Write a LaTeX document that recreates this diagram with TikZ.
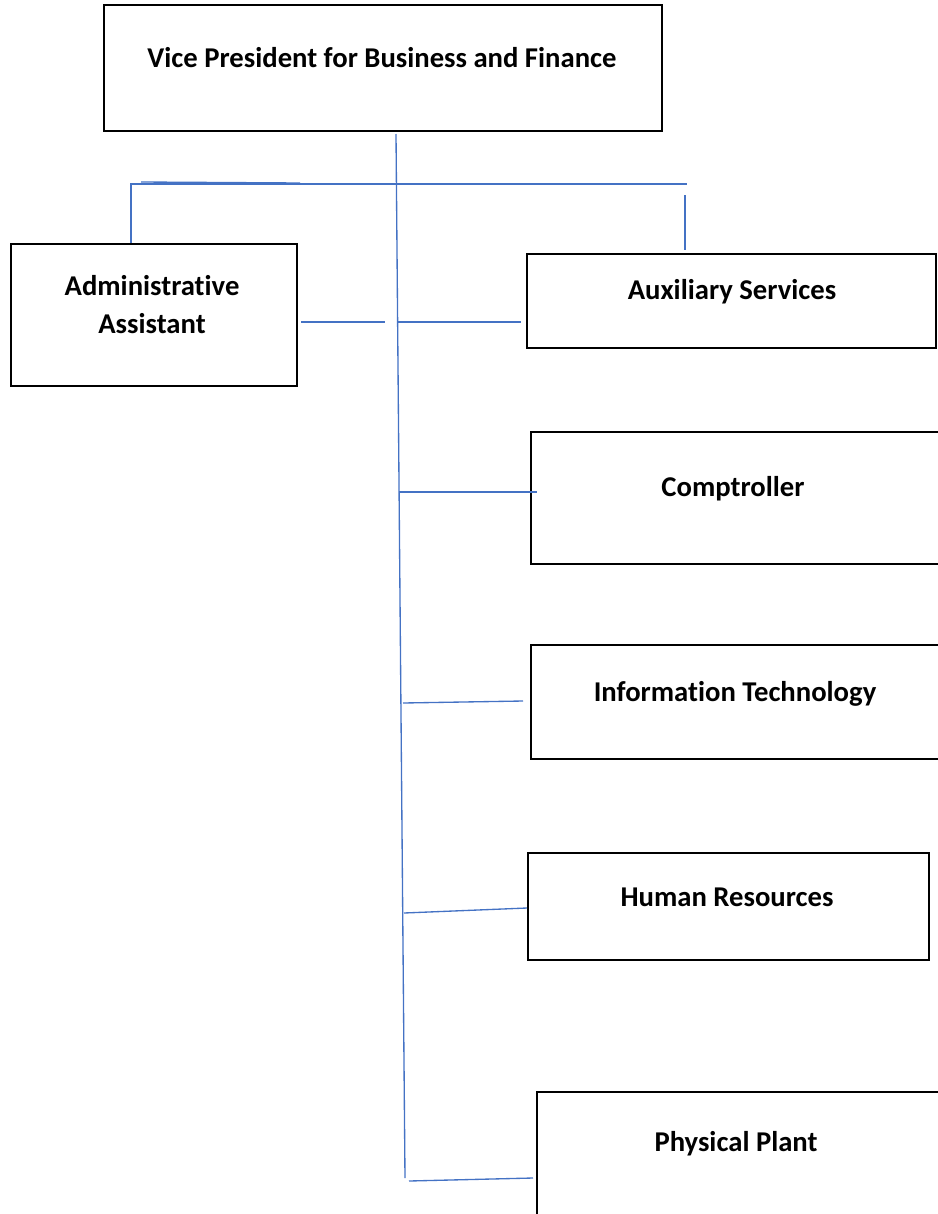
\documentclass[tikz,border=0pt]{standalone}
\usepackage{fontspec}
\setmainfont{Carlito}[Ligatures=NoCommon]
\definecolor{linkblue}{RGB}{68,114,196}
\tikzset{
	orgbox/.style 2 args={
		draw, line width=1.5pt, inner sep=0pt,
		minimum width=#1*0.75pt, minimum height=#2*0.75pt},
	orgtext/.style={
		font=\fontsize{21.5}{28.5}\selectfont\bfseries,
		align=center, inner sep=0pt},
	link/.style={draw=linkblue, line width=1pt}
}
\begin{document}
\begin{tikzpicture}[x=0.75pt,y=0.75pt,yscale=-1,xscale=1]
\useasboundingbox (0,0) rectangle (938,1214); %page size of the chart

% boxes
\node [orgbox={558}{126}] (vp) at (383,68) {};
\node [orgbox={286}{142}] (admin) at (154,315) {};
\node [orgbox={409}{94}] (aux) at (731.5,301) {};
\node [orgbox={409}{132}] (comp) at (735.5,498) {};
\node [orgbox={409}{114}] (it) at (735.5,702) {};
\node [orgbox={401}{107}] (hr) at (728.5,906.5) {};
\node [orgbox={403}{148}] (plant) at (738.5,1166) {};

\node [orgtext] (vp-t) at (382,58) {Vice President for Business and Finance};
\node [orgtext] (admin-t) at (152,305) {Administrative\\Assistant};
\node [orgtext] (aux-t) at (732,292) {Auxiliary Services};
\node [orgtext] (comp-t) at (733,489) {Comptroller};
\node [orgtext] (it-t) at (735,694) {Information Technology};
\node [orgtext] (hr-t) at (727,897) {Human Resources};
\node [orgtext] (plant-t) at (736,1144) {Physical Plant};

% connector ends
\coordinate (trunk-top) at (396,134);
\coordinate (trunk-end) at (405,1178);
\coordinate (bar-l) at (131,184);
\coordinate (bar-r) at (687,184);
\coordinate (drop-top) at (685,195);
\coordinate (drop-end) at (685,250);

\coordinate (adm-a) at (301,322);
\coordinate (adm-b) at (385,322);
\coordinate (aux-a) at (397,322);
\coordinate (aux-b) at (521,322);
\coordinate (comp-a) at (399,492);
\coordinate (comp-b) at (537,492);
\coordinate (it-a) at (403,703);
\coordinate (it-b) at (523,701);
\coordinate (hr-a) at (404,913);
\coordinate (hr-b) at (527,908);
\coordinate (plant-a) at (409,1181);
\coordinate (plant-b) at (533,1178);

% blue lines
\draw [link] (trunk-top) -- (trunk-end);
\draw [link] (admin.north -| bar-l) -- (bar-l) -- (bar-r);
\draw [link] (141,182) -- (300,183);
\draw [link] (drop-top) -- (drop-end);

\draw [link] (adm-a) -- (adm-b);
\draw [link] (aux-a) -- (aux-b);
\draw [link] (comp-a) -- (comp-b);
\draw [link] (it-a) -- (it-b);
\draw [link] (hr-a) -- (hr-b);
\draw [link] (plant-a) -- (plant-b);

\end{tikzpicture}
\end{document}
